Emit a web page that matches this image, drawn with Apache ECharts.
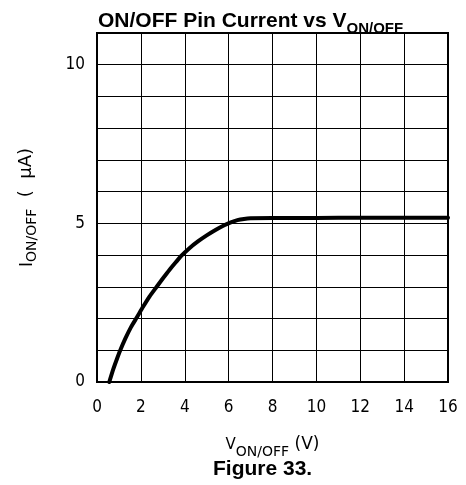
<!DOCTYPE html>
<html>
<head>
<meta charset="utf-8">
<script src="https://cdn.jsdelivr.net/npm/echarts@6/dist/echarts.min.js"></script>
<style>
  html, body { margin: 0; padding: 0; background: #fff; }
  #chart { width: 466px; height: 485px; }
</style>
</head>
<body>
<div id="chart"></div>
<script>
// ON/OFF pin current (µA) against ON/OFF pin voltage (V)
const vOnOff = [0.56, 0.75, 0.9, 1.06, 1.3, 1.55, 1.82, 2.1, 2.4, 2.73, 3.0, 3.3, 3.6, 3.85, 4.2, 4.6, 5.0, 5.4, 5.8, 6.1, 6.4, 6.7, 7.0, 8.0, 10.0, 12.0, 14.0, 16.0];
const iOnOff = [0, 0.42, 0.71, 1.0, 1.38, 1.73, 2.04, 2.37, 2.7, 3.01, 3.26, 3.53, 3.78, 3.98, 4.21, 4.43, 4.62, 4.79, 4.94, 5.03, 5.1, 5.14, 5.16, 5.17, 5.17, 5.18, 5.18, 5.18];

const xTicks = [0, 2, 4, 6, 8, 10, 12, 14, 16];
const yTickLabels = [0, 5, 10];

const tickFont = '"Liberation Sans Narrow", "DejaVu Sans Condensed", "Liberation Sans", sans-serif';
const nameFont = '"DejaVu Sans", sans-serif';
const boldFont = '"Liberation Sans", Arial, sans-serif';

const chart = echarts.init(document.getElementById('chart'), null, { renderer: 'canvas' });

chart.setOption({
  animation: false,
  backgroundColor: '#fff',
  title: {
    text: '{m|ON/OFF Pin Current vs V}{s|ON/OFF}',
    left: 93,
    top: 6,
    textStyle: {
      rich: {
        m: { fontFamily: boldFont, fontWeight: 'bold', fontSize: 21, color: '#000', verticalAlign: 'top', lineHeight: 24 },
        s: { fontFamily: boldFont, fontWeight: 'bold', fontSize: 15, color: '#000', verticalAlign: 'top', lineHeight: 24, padding: [10, 0, 0, 0] }
      }
    }
  },
  grid: { left: 97, right: 18, top: 33, bottom: 103, containLabel: false },
  xAxis: {
    type: 'value',
    min: 0,
    max: 16,
    interval: 2,
    name: '{v|V}{s|ON/OFF}{u| (V)}',
    nameLocation: 'middle',
    nameGap: 56,
    nameTextStyle: {
      rich: {
        v: { fontFamily: nameFont, fontSize: 15, color: '#000', verticalAlign: 'top', lineHeight: 24 },
        s: { fontFamily: nameFont, fontSize: 14, color: '#000', verticalAlign: 'top', lineHeight: 24, padding: [7, 0, 0, 0] },
        u: { fontFamily: nameFont, fontSize: 17, color: '#000', verticalAlign: 'top', lineHeight: 24, padding: [-2, 0, 0, 0] }
      }
    },
    axisLine: { show: true, lineStyle: { color: '#000', width: 2 } },
    axisTick: { show: false },
    splitLine: { show: true, lineStyle: { color: '#000', width: 1 } },
    axisLabel: {
      margin: 17,
      fontFamily: tickFont,
      fontSize: 17,
      color: '#000',
      formatter: v => (xTicks.indexOf(v) >= 0 ? String(v) : '')
    }
  },
  yAxis: {
    type: 'value',
    min: 0,
    max: 11,
    interval: 1,
    name: '{i|I}{s|ON/OFF}{u|  (  µA)}',
    nameLocation: 'middle',
    nameRotate: 90,
    nameGap: 54,
    nameTextStyle: {
      rich: {
        i: { fontFamily: nameFont, fontSize: 17, color: '#000', verticalAlign: 'top', lineHeight: 24 },
        s: { fontFamily: nameFont, fontSize: 14, color: '#000', verticalAlign: 'top', lineHeight: 24, padding: [6, 0, 0, 0] },
        u: { fontFamily: nameFont, fontSize: 18, color: '#000', verticalAlign: 'top', lineHeight: 24, padding: [-2, 0, 0, 0] }
      }
    },
    axisLine: { show: true, lineStyle: { color: '#000', width: 2 } },
    axisTick: { show: false },
    splitLine: { show: true, lineStyle: { color: '#000', width: 1 } },
    axisLabel: {
      margin: 12,
      fontFamily: tickFont,
      fontSize: 17,
      color: '#000',
      formatter: v => (yTickLabels.indexOf(v) >= 0 ? String(v) : '')
    }
  },
  graphic: [
    {
      type: 'rect',
      shape: { x: 97, y: 33, width: 351, height: 349 },
      style: { fill: 'none', stroke: '#000', lineWidth: 2 },
      silent: true,
      z: 10
    },
    {
      type: 'text',
      left: 213,
      top: 459,
      style: { text: 'Figure 33.', font: 'bold 21px "Liberation Sans", Arial, sans-serif', fill: '#000' }
    }
  ],
  series: [{
    type: 'line',
    data: vOnOff.map((v, k) => [v, iOnOff[k]]),
    smooth: 0.2,
    showSymbol: false,
    lineStyle: { color: '#000', width: 4, join: 'round', cap: 'round' },
    z: 5
  }]
});
</script>
</body>
</html>
